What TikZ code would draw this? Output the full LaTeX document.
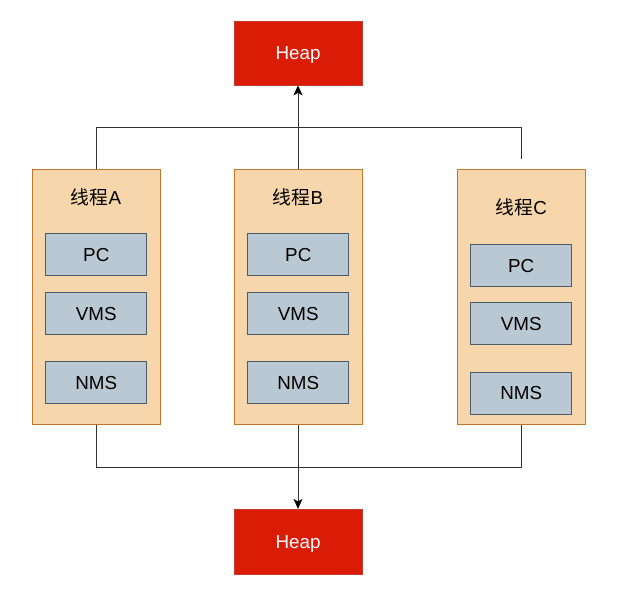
\documentclass[tikz,border=0pt]{standalone}
\usepackage{fontspec}
\setmainfont{Liberation Sans}
\newfontfamily\cjk{Noto Sans CJK SC}
\usetikzlibrary{arrows.meta}
\definecolor{heapfill}{HTML}{DA1B05}
\definecolor{heapline}{HTML}{C43A30}
\definecolor{thrfill}{HTML}{F6D6AA}
\definecolor{thrline}{HTML}{C0772A}
\definecolor{boxfill}{HTML}{BAC8D3}
\definecolor{boxline}{HTML}{4A5B6A}
\definecolor{wire}{HTML}{333333}
\begin{document}
\begin{tikzpicture}[x=1pt,y=-1pt,
  every node/.style={font=\fontsize{18.8}{22}\selectfont, inner sep=0pt, text height=13.4pt, text depth=0pt},
  heap/.style={draw=heapline, fill=heapfill, line width=0.8pt, minimum width=128pt, minimum height=64pt, text=white},
  thread/.style={draw=thrline, fill=thrfill, line width=1pt, minimum width=128pt, minimum height=255pt},
  reg/.style={draw=boxline, fill=boxfill, line width=1pt, minimum width=101pt, minimum height=42pt, text=black},
  lbl/.style={text=black},
  wireline/.style={draw=wire, line width=1pt},
  arr/.style={wireline, -{Stealth[length=10pt,width=9pt,inset=2.5pt,color=black]}}
]
\useasboundingbox (0,0) rectangle (633,593);

\node[heap] (heapT) at (298,53) {Heap};
\node[heap, minimum height=65pt] (heapB) at (298,541.8) {Heap};

\node[thread] (thrA) at (96,297.5) {};
\node[thread] (thrB) at (298,297.5) {};
\node[thread] (thrC) at (521.3,297.5) {};

\node[lbl] (lA) at (96,198) {{\cjk 线程}A};
\node[reg] (pcA) at (96.3,255) {PC};
\node[reg] (vmsA) at (96.3,313.5) {VMS};
\node[reg] (nmsA) at (96.3,382.5) {NMS};

\node[lbl] (lB) at (298,198) {{\cjk 线程}B};
\node[reg] (pcB) at (298.3,255) {PC};
\node[reg] (vmsB) at (298.3,313.5) {VMS};
\node[reg] (nmsB) at (298.3,382.5) {NMS};

\node[lbl] (lC) at (521.3,208) {{\cjk 线程}C};
\node[reg] (pcC) at (521.2,265.6) {PC};
\node[reg] (vmsC) at (521.2,324) {VMS};
\node[reg] (nmsC) at (521.2,393.2) {NMS};

\coordinate (tL) at (96,128);
\coordinate (tR) at (521.3,128);
\coordinate (cT) at (521.3,159);
\coordinate (bL) at (96,468);
\coordinate (bR) at (521.3,468);

\draw[wireline] (thrA.north) -- (tL) -- (tR) -- (cT);
\draw[arr] (thrB.north) -- (heapT.south);
\draw[wireline] (thrA.south) -- (bL) -- (bR) -- (thrC.south);
\draw[arr] (thrB.south) -- (heapB.north);
\end{tikzpicture}
\end{document}
